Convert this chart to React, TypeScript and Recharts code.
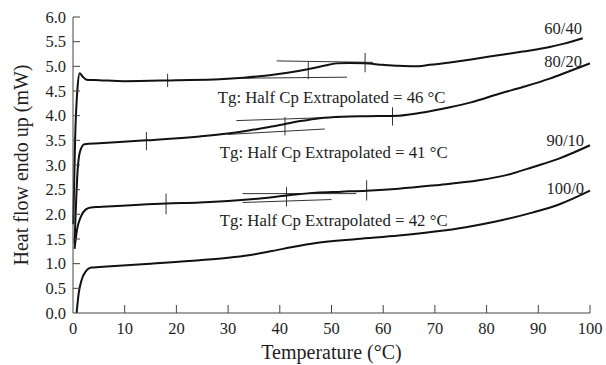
import React from "react";
import {
  LineChart,
  Line,
  XAxis,
  YAxis,
  ReferenceLine,
  ReferenceDot,
} from "recharts";

// curves (temperature °C -> heat flow mW)
const temp6040 = [0.05, 0.4, 0.9, 1.3, 1.8, 2.6, 5, 10, 20, 28.4, 33, 38, 41.5, 45.4, 48.5, 51, 53.5, 56.4, 60, 63, 66, 69, 72.9, 77, 82.6, 87, 92.2, 95, 98.6];
const heat6040 = [1.8, 3.5, 4.6, 4.86, 4.8, 4.73, 4.72, 4.7, 4.72, 4.74, 4.77, 4.82, 4.87, 4.94, 5.01, 5.06, 5.07, 5.06, 5.03, 5.01, 5.0, 5.03, 5.08, 5.14, 5.23, 5.3, 5.39, 5.46, 5.57];

const temp8020 = [0.3, 0.9, 1.3, 2.2, 5.1, 14.2, 24.5, 30, 34, 38, 41, 44, 47.7, 52, 57, 63, 68, 72.9, 77, 82.6, 87, 92.2, 96, 100];
const heat8020 = [1.4, 2.9, 3.25, 3.42, 3.44, 3.5, 3.58, 3.64, 3.7, 3.77, 3.83, 3.89, 3.95, 3.98, 3.99, 4.0, 4.07, 4.17, 4.27, 4.45, 4.58, 4.75, 4.9, 5.06];

const temp9010 = [0.3, 0.8, 1.5, 2.5, 3.5, 5.1, 18, 24.5, 30, 35, 41.3, 47, 52, 56.8, 63, 70, 78.5, 84, 89, 94, 100];
const heat9010 = [1.3, 1.7, 1.95, 2.1, 2.14, 2.15, 2.22, 2.24, 2.27, 2.31, 2.38, 2.44, 2.46, 2.48, 2.52, 2.59, 2.69, 2.8, 2.96, 3.13, 3.4];

const temp1000 = [0.7, 1.1, 1.7, 2.5, 3.5, 5.1, 15, 24.5, 30, 34, 40.6, 47, 55, 63, 70, 76, 82, 89, 94, 100];
const heat1000 = [0, 0.4, 0.68, 0.85, 0.92, 0.93, 1.0, 1.07, 1.12, 1.17, 1.3, 1.42, 1.5, 1.57, 1.65, 1.74, 1.86, 2.04, 2.2, 2.48];

const seriesNames = ["60/40", "80/20", "90/10", "100/0"];
const nameX = [94.8, 94.8, 95.2, 95.2];
const nameY = [5.77, 5.09, 3.5, 2.53];

// Tg construction: tangent lines [x1, y1, x2, y2]
const tangents = [
  [39.4, 5.11, 58, 5.08],
  [33, 4.76, 53, 4.78],
  [31.6, 3.9, 51.6, 3.97],
  [30, 3.62, 48.7, 3.73],
  [32.8, 2.42, 54.8, 2.42],
  [32.8, 2.24, 50, 2.3],
];
// vertical marks [x, yLow, yHigh]
const marks = [
  [18.3, 4.58, 4.85],
  [45.5, 4.74, 5.1],
  [56.5, 4.88, 5.27],
  [14.2, 3.3, 3.67],
  [41, 3.6, 3.97],
  [61.8, 3.8, 4.17],
  [18, 2.0, 2.42],
  [41.3, 2.16, 2.55],
  [56.8, 2.28, 2.69],
];

const tgValues = [46, 41, 42];
const tgX = [28, 28.4, 28.4];
const tgY = [4.37, 3.26, 1.88];

const xTicks = [0, 10, 20, 30, 40, 50, 60, 70, 80, 90, 100];
const yTicks = [0, 0.5, 1, 1.5, 2, 2.5, 3, 3.5, 4, 4.5, 5, 5.5, 6];

const toPoints = (xs: number[], ys: number[]) => xs.map((x, i) => ({ x, y: ys[i] }));
const curves = [
  toPoints(temp6040, heat6040),
  toPoints(temp8020, heat8020),
  toPoints(temp9010, heat9010),
  toPoints(temp1000, heat1000),
];

const FONT = "'Liberation Serif', 'Times New Roman', serif";
const INK = "#1e1e1e";
const textStyle = { fontFamily: FONT, fontSize: 16.5, fill: INK };

const YTick = ({ x, y, payload }: any) => (
  <g>
    {payload.value !== 0 && <line x1={x} y1={y} x2={x + 7} y2={y} stroke="#444" />}
    <text x={x - 7} y={y} textAnchor="end" dominantBaseline="central" style={textStyle}>
      {payload.value.toFixed(1)}
    </text>
  </g>
);

const XTick = ({ x, y, payload }: any) => (
  <g>
    {payload.value !== 0 && <line x1={x} y1={y} x2={x} y2={y - 8} stroke="#444" />}
    <text x={x} y={y + 15} textAnchor="middle" dominantBaseline="central" style={textStyle}>
      {payload.value}
    </text>
  </g>
);

export default function App() {
  return (
    <div style={{ position: "absolute", left: 0, top: 0, fontFamily: FONT }}>
      <LineChart width={606} height={365} margin={{ top: 17, right: 16, bottom: 0, left: 0 }}>
        <XAxis
          type="number"
          dataKey="x"
          domain={[0, 100]}
          ticks={xTicks}
          height={52}
          tickSize={0}
          tickMargin={0}
          tick={<XTick />}
          stroke="#444"
          allowDuplicatedCategory={false}
          label={{ value: "Temperature (°C)", position: "insideBottom", offset: 6, fontSize: 20, fontFamily: FONT, fill: INK }}
        />
        <YAxis
          type="number"
          domain={[0, 6]}
          ticks={yTicks}
          width={73}
          tickSize={0}
          tickMargin={0}
          tick={<YTick />}
          stroke="#444"
          label={{
            value: "Heat flow endo up (mW)",
            angle: -90,
            position: "insideLeft",
            offset: 21,
            fontSize: 20,
            fontFamily: FONT,
            fill: INK,
            style: { textAnchor: "middle" },
          }}
        />
        {tangents.map((t, i) => (
          <ReferenceLine
            key={"t" + i}
            segment={[{ x: t[0], y: t[1] }, { x: t[2], y: t[3] }]}
            stroke="#333"
            strokeWidth={1}
          />
        ))}
        {marks.map((m, i) => (
          <ReferenceLine
            key={"m" + i}
            segment={[{ x: m[0], y: m[1] }, { x: m[0], y: m[2] }]}
            stroke="#333"
            strokeWidth={1}
          />
        ))}
        {curves.map((data, i) => (
          <Line
            key={seriesNames[i]}
            data={data}
            dataKey="y"
            name={seriesNames[i]}
            type="monotone"
            stroke="#111"
            strokeWidth={2}
            dot={false}
            activeDot={false}
            isAnimationActive={false}
          />
        ))}
        {seriesNames.map((n, i) => (
          <ReferenceDot
            key={"n" + i}
            x={nameX[i]}
            y={nameY[i]}
            r={0}
            shape={(p: any) => (
              <text x={p.cx} y={p.cy} textAnchor="middle" dominantBaseline="central" style={textStyle}>
                {n}
              </text>
            )}
          />
        ))}
        {tgValues.map((v, i) => (
          <ReferenceDot
            key={"tg" + i}
            x={tgX[i]}
            y={tgY[i]}
            r={0}
            shape={(p: any) => (
              <text x={p.cx} y={p.cy} textAnchor="start" dominantBaseline="central" style={{ ...textStyle, fontSize: 16.8 }}>
                {`Tg: Half Cp Extrapolated = ${v} °C`}
              </text>
            )}
          />
        ))}
      </LineChart>
    </div>
  );
}
